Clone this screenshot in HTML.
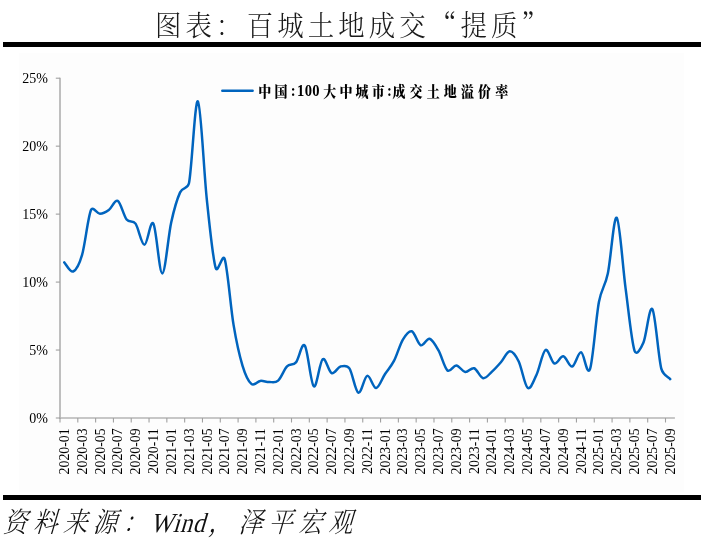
<!DOCTYPE html>
<html lang="zh-CN"><head><meta charset="utf-8"><title>图表：百城土地成交“提质”</title>
<style>
html,body{margin:0;padding:0;background:#fff;}
body{width:702px;height:544px;position:relative;overflow:hidden;font-family:"Liberation Serif","Noto Serif CJK SC",serif;}
.bar{position:absolute;left:3px;width:698px;height:5px;background:#000;}
.cjk{font-family:"Noto Serif CJK SC",serif;}
.title{position:absolute;left:155px;top:3.9px;font-family:"Noto Serif CJK SC",serif;font-size:28.4px;font-weight:300;letter-spacing:4.45px;color:#1a1a1a;line-height:40px;white-space:nowrap;transform:scaleX(0.93);transform-origin:0 0;}
.title .q{font-feature-settings:"fwid" 1;}
.src{position:absolute;left:5px;top:500px;font-family:"Noto Serif CJK SC",serif;font-size:28px;font-weight:300;letter-spacing:6.48px;color:#111;line-height:40px;white-space:nowrap;transform:skewX(-16.5deg) scaleX(0.87);transform-origin:0 24px;}
.src .en{font-family:"Liberation Serif",serif;font-size:27.5px;letter-spacing:0.9px;margin-left:-3px;margin-right:3px;}
</style></head><body>
<div class="title">图表：百城土地成交<span class="q">“</span>提质<span class="q">”</span></div>
<div class="bar" style="top:42px"></div>
<svg width="702" height="544" viewBox="0 0 702 544" style="position:absolute;left:0;top:0">
<rect x="19" y="53" width="665" height="439" fill="#fdfdfd"/>
<g stroke="#b4b4b4" stroke-width="1.7" fill="none">
<path d="M60.0 77.7 V418.9"/>
<path d="M59.1 418.0 H674.9"/>
</g>
<g stroke="#a0a0a0" stroke-width="1.1" fill="none">
<path d="M55.8 418.00 H60.0"/>
<path d="M55.8 350.04 H60.0"/>
<path d="M55.8 282.08 H60.0"/>
<path d="M55.8 214.12 H60.0"/>
<path d="M55.8 146.16 H60.0"/>
<path d="M55.8 78.20 H60.0"/>
<path d="M60.00 418.0 V422.5"/>
<path d="M77.81 418.0 V422.5"/>
<path d="M95.62 418.0 V422.5"/>
<path d="M113.43 418.0 V422.5"/>
<path d="M131.23 418.0 V422.5"/>
<path d="M149.04 418.0 V422.5"/>
<path d="M166.85 418.0 V422.5"/>
<path d="M184.66 418.0 V422.5"/>
<path d="M202.47 418.0 V422.5"/>
<path d="M220.28 418.0 V422.5"/>
<path d="M238.09 418.0 V422.5"/>
<path d="M255.90 418.0 V422.5"/>
<path d="M273.70 418.0 V422.5"/>
<path d="M291.51 418.0 V422.5"/>
<path d="M309.32 418.0 V422.5"/>
<path d="M327.13 418.0 V422.5"/>
<path d="M344.94 418.0 V422.5"/>
<path d="M362.75 418.0 V422.5"/>
<path d="M380.56 418.0 V422.5"/>
<path d="M398.37 418.0 V422.5"/>
<path d="M416.17 418.0 V422.5"/>
<path d="M433.98 418.0 V422.5"/>
<path d="M451.79 418.0 V422.5"/>
<path d="M469.60 418.0 V422.5"/>
<path d="M487.41 418.0 V422.5"/>
<path d="M505.22 418.0 V422.5"/>
<path d="M523.03 418.0 V422.5"/>
<path d="M540.83 418.0 V422.5"/>
<path d="M558.64 418.0 V422.5"/>
<path d="M576.45 418.0 V422.5"/>
<path d="M594.26 418.0 V422.5"/>
<path d="M612.07 418.0 V422.5"/>
<path d="M629.88 418.0 V422.5"/>
<path d="M647.69 418.0 V422.5"/>
<path d="M665.50 418.0 V422.5"/>
</g>
<g font-family="'Liberation Serif', serif" font-size="14" fill="#000" text-anchor="end">
<text x="47.8" y="423.1">0%</text>
<text x="47.8" y="355.1">5%</text>
<text x="47.8" y="287.2">10%</text>
<text x="47.8" y="219.2">15%</text>
<text x="47.8" y="151.3">20%</text>
<text x="47.8" y="83.3">25%</text>
</g>
<g font-family="'Liberation Serif', serif" font-size="13.8" fill="#000" text-anchor="end">
<text transform="translate(69.05 428.4) rotate(-90) scale(1 1.06)">2020-01</text>
<text transform="translate(86.86 428.4) rotate(-90) scale(1 1.06)">2020-03</text>
<text transform="translate(104.67 428.4) rotate(-90) scale(1 1.06)">2020-05</text>
<text transform="translate(122.48 428.4) rotate(-90) scale(1 1.06)">2020-07</text>
<text transform="translate(140.29 428.4) rotate(-90) scale(1 1.06)">2020-09</text>
<text transform="translate(158.10 428.4) rotate(-90) scale(1 1.06)">2020-11</text>
<text transform="translate(175.90 428.4) rotate(-90) scale(1 1.06)">2021-01</text>
<text transform="translate(193.71 428.4) rotate(-90) scale(1 1.06)">2021-03</text>
<text transform="translate(211.52 428.4) rotate(-90) scale(1 1.06)">2021-05</text>
<text transform="translate(229.33 428.4) rotate(-90) scale(1 1.06)">2021-07</text>
<text transform="translate(247.14 428.4) rotate(-90) scale(1 1.06)">2021-09</text>
<text transform="translate(264.95 428.4) rotate(-90) scale(1 1.06)">2021-11</text>
<text transform="translate(282.76 428.4) rotate(-90) scale(1 1.06)">2022-01</text>
<text transform="translate(300.57 428.4) rotate(-90) scale(1 1.06)">2022-03</text>
<text transform="translate(318.37 428.4) rotate(-90) scale(1 1.06)">2022-05</text>
<text transform="translate(336.18 428.4) rotate(-90) scale(1 1.06)">2022-07</text>
<text transform="translate(353.99 428.4) rotate(-90) scale(1 1.06)">2022-09</text>
<text transform="translate(371.80 428.4) rotate(-90) scale(1 1.06)">2022-11</text>
<text transform="translate(389.61 428.4) rotate(-90) scale(1 1.06)">2023-01</text>
<text transform="translate(407.42 428.4) rotate(-90) scale(1 1.06)">2023-03</text>
<text transform="translate(425.23 428.4) rotate(-90) scale(1 1.06)">2023-05</text>
<text transform="translate(443.03 428.4) rotate(-90) scale(1 1.06)">2023-07</text>
<text transform="translate(460.84 428.4) rotate(-90) scale(1 1.06)">2023-09</text>
<text transform="translate(478.65 428.4) rotate(-90) scale(1 1.06)">2023-11</text>
<text transform="translate(496.46 428.4) rotate(-90) scale(1 1.06)">2024-01</text>
<text transform="translate(514.27 428.4) rotate(-90) scale(1 1.06)">2024-03</text>
<text transform="translate(532.08 428.4) rotate(-90) scale(1 1.06)">2024-05</text>
<text transform="translate(549.89 428.4) rotate(-90) scale(1 1.06)">2024-07</text>
<text transform="translate(567.70 428.4) rotate(-90) scale(1 1.06)">2024-09</text>
<text transform="translate(585.50 428.4) rotate(-90) scale(1 1.06)">2024-11</text>
<text transform="translate(603.31 428.4) rotate(-90) scale(1 1.06)">2025-01</text>
<text transform="translate(621.12 428.4) rotate(-90) scale(1 1.06)">2025-03</text>
<text transform="translate(638.93 428.4) rotate(-90) scale(1 1.06)">2025-05</text>
<text transform="translate(656.74 428.4) rotate(-90) scale(1 1.06)">2025-07</text>
<text transform="translate(674.55 428.4) rotate(-90) scale(1 1.06)">2025-09</text>
</g>
<path d="M64.26 262.37 C65.74 263.89 70.20 272.72 73.17 271.48 C76.14 270.23 79.46 263.94 82.08 254.90 C85.05 244.66 88.02 216.91 90.99 210.04 C92.90 205.62 96.93 213.71 99.90 213.71 C102.87 213.71 105.84 212.17 108.81 210.04 C111.78 207.91 114.75 199.35 117.72 200.94 C120.69 202.52 123.66 215.77 126.63 219.56 C129.60 223.34 132.72 219.63 135.54 223.63 C138.51 227.85 141.48 244.84 144.45 244.84 C147.42 244.84 150.40 218.88 153.37 223.63 C156.34 228.39 159.31 273.59 162.28 273.38 C165.25 273.18 168.22 235.91 171.19 222.41 C174.16 208.91 177.13 198.92 180.10 192.37 C182.75 186.53 187.78 189.43 189.01 183.13 C191.98 167.95 194.95 98.57 197.92 101.31 C200.89 104.05 203.86 171.76 206.83 199.58 C209.80 227.39 212.77 258.34 215.74 268.22 C217.61 274.41 222.71 252.67 224.65 258.84 C227.62 268.28 230.59 307.11 233.56 324.89 C236.53 342.68 239.51 355.70 242.48 365.53 C245.43 375.30 248.42 381.32 251.39 383.88 C254.36 386.44 257.33 381.21 260.30 380.89 C263.27 380.58 266.24 382.03 269.21 381.98 C272.18 381.94 275.15 383.23 278.12 380.62 C281.09 378.02 284.06 369.39 287.03 366.35 C290.00 363.31 292.97 365.85 295.94 362.41 C298.91 358.97 301.88 341.70 304.85 345.69 C307.82 349.68 310.79 384.09 313.76 386.33 C316.73 388.57 319.70 361.34 322.67 359.15 C325.64 356.95 328.62 371.92 331.59 373.15 C334.56 374.37 337.53 367.28 340.50 366.49 C343.47 365.69 346.85 364.62 349.41 368.39 C352.38 372.76 355.35 391.47 358.32 392.72 C361.29 393.96 364.26 376.64 367.23 375.86 C370.20 375.09 373.17 388.41 376.14 388.10 C379.11 387.78 382.08 378.49 385.05 373.96 C388.02 369.43 390.99 366.64 393.96 360.91 C396.93 355.18 399.90 344.51 402.87 339.57 C405.84 334.64 408.81 330.33 411.78 331.28 C414.75 332.23 417.73 344.04 420.70 345.28 C423.67 346.53 426.64 337.90 429.61 338.76 C432.58 339.62 435.55 345.17 438.52 350.45 C441.49 355.73 444.46 367.94 447.43 370.43 C450.40 372.92 453.37 365.13 456.34 365.40 C459.31 365.67 462.28 371.58 465.25 372.06 C468.22 372.53 471.19 367.23 474.16 368.25 C477.13 369.27 480.10 377.61 483.07 378.18 C486.04 378.74 489.01 374.30 491.98 371.65 C494.95 369.00 497.92 365.67 500.89 362.27 C503.86 358.87 506.84 351.40 509.81 351.26 C512.78 351.13 515.75 355.37 518.72 361.46 C521.69 367.55 524.66 385.61 527.63 387.83 C530.60 390.05 533.57 381.08 536.54 374.78 C539.51 368.48 542.48 351.92 545.45 350.04 C548.42 348.16 551.39 362.45 554.36 363.50 C557.33 364.54 560.30 355.79 563.27 356.29 C566.24 356.79 569.21 367.14 572.18 366.49 C575.15 365.83 578.12 351.92 581.09 352.35 C584.06 352.78 587.03 377.45 590.00 369.07 C592.97 360.69 595.95 317.99 598.92 302.06 C601.66 287.36 604.86 287.56 607.83 273.52 C610.80 259.47 613.77 215.23 616.74 217.79 C619.71 220.35 622.68 266.70 625.65 288.88 C628.62 311.05 631.59 341.91 634.56 350.86 C636.48 356.63 641.08 348.16 643.47 342.56 C646.44 335.61 649.41 304.78 652.38 309.13 C655.35 313.48 658.32 356.99 661.29 368.66 C662.99 375.32 668.72 377.38 670.20 379.13" fill="none" stroke="#0064be" stroke-width="2.5" stroke-linecap="round" stroke-linejoin="round"/>
<path d="M222.3 90.8 H252.6" stroke="#0064be" stroke-width="2.5" stroke-linecap="round"/>
<g fill="#000">
<text transform="translate(0 96.9) scale(1 1.12)" y="0"><tspan x="258.2" font-family="'Noto Serif CJK SC', serif" font-weight="900" font-size="13" y="0" letter-spacing="3.40">中国</tspan><tspan x="290.8" font-family="'Liberation Serif', serif" font-weight="bold" font-size="14.6" y="-0.4" letter-spacing="0.00">:</tspan><tspan x="297.1" font-family="'Liberation Serif', serif" font-weight="bold" font-size="14.6" y="-0.4" letter-spacing="0.30">100</tspan><tspan x="323.2" font-family="'Noto Serif CJK SC', serif" font-weight="900" font-size="13" y="0" letter-spacing="3.20">大中城市</tspan><tspan x="387.0" font-family="'Liberation Serif', serif" font-weight="bold" font-size="14.6" y="-0.4" letter-spacing="0.00">:</tspan><tspan x="392.4" font-family="'Noto Serif CJK SC', serif" font-weight="900" font-size="13" y="0" letter-spacing="4.15">成交土地溢价率</tspan></text>
</g>
</svg>
<div class="bar" style="top:495px"></div>
<div class="src">资料来源：<span class="en">Wind</span>，泽平宏观</div>
</body></html>
